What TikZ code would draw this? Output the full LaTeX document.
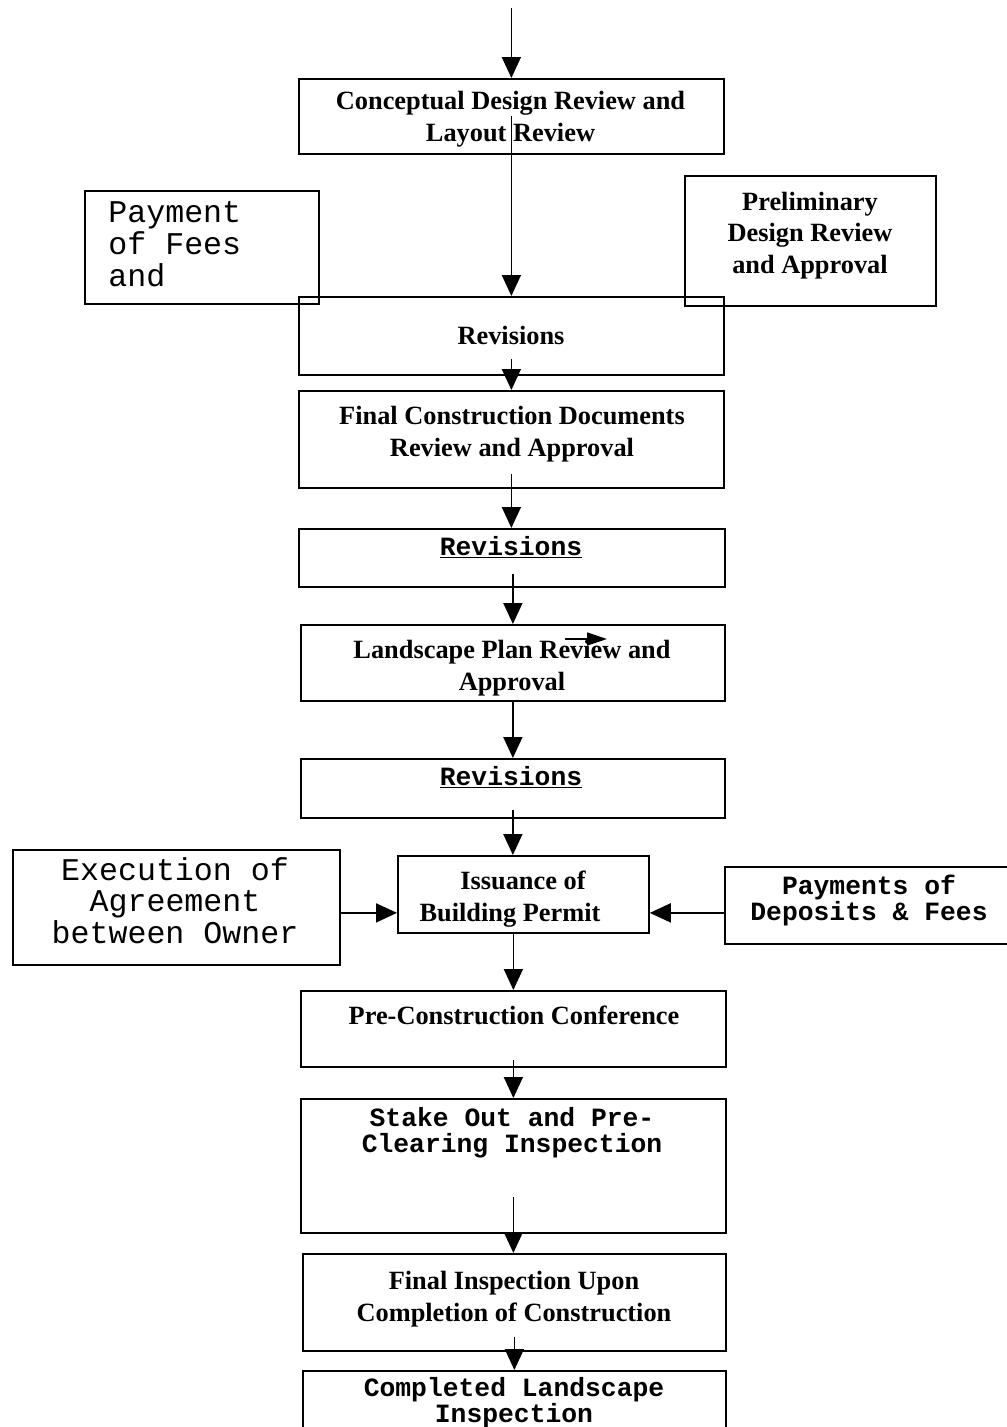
\documentclass[tikz,border=0pt]{standalone}
\usepackage{fontspec}
\setmainfont{Liberation Serif}
\setmonofont{Liberation Mono}
\usepackage{tikz}
\usetikzlibrary{arrows.meta,positioning}
\newcommand*{\FlowBox}[5]{\draw (#1,#2) node[box, minimum width=#3*0.02cm,
  minimum height=#4*0.02cm] (#5) {};}
\tikzset{
  box/.style={draw, line width=1pt, anchor=north west, inner sep=0pt},
  serif/.style={font=\bfseries\fontsize{15}{18.1}\selectfont, align=center, inner sep=0pt},
  mono/.style={font=\ttfamily\bfseries\fontsize{15}{14.7}\selectfont, align=center, inner sep=0pt},
  bigmono/.style={font=\ttfamily\fontsize{18}{18.1}\selectfont, inner sep=0pt},
  flow/.style={line width=1pt, -{Triangle[length=0.42cm, width=0.38cm]}},
  stray/.style={line width=1pt, -{Triangle[length=0.4cm, width=0.26cm]}}
}

\begin{document}
\begin{tikzpicture}[x=0.02cm, y=-0.02cm]
    \useasboundingbox (0,0) rectangle (1007,1427);
    \FlowBox{298}{78}{425}{75}{concept}
    \FlowBox{84}{190}{234}{113}{fees}
    \FlowBox{684}{175}{251}{130}{prelim}
    \FlowBox{298}{296}{425}{78}{rev1}
    \FlowBox{298}{390}{425}{97}{finaldocs}
    \FlowBox{298}{528}{426}{58}{rev2}
    \FlowBox{300}{624}{424}{76}{landscape}
    \FlowBox{300}{758}{424}{59}{rev3}
    \FlowBox{12}{849}{327}{115}{agreement}
    \FlowBox{397}{855}{251}{77}{permit}
    \FlowBox{724}{866}{300}{77}{deposits}
    \FlowBox{300}{990}{425}{76}{precon}
    \FlowBox{300}{1098}{425}{134}{stakeout}
    \FlowBox{302}{1253}{423}{97}{finalinsp}
    \FlowBox{302}{1370}{423}{90}{completed}
    % texts
    \draw (510.5,119.5) node[serif] (conceptT) {Conceptual Design Review and\\Layout Review};
    \draw (108,244) node[bigmono, anchor=west, align=left] (feesT) {Payment\\of Fees\\and};
    \draw (810,235.5) node[serif] (prelimT) {Preliminary\\Design Review\\and Approval};
    \draw (511,335) node[serif] (rev1T) {Revisions};
    \draw (512,434.5) node[serif] (finaldocsT) {Final Construction Documents\\Review and Approval};
    \draw (511,555) node[mono, anchor=base] (rev2T) {\underline{Revisions}};
    \draw (512,668.5) node[serif] (landscapeT) {Landscape Plan Review and\\Approval};
    \draw (511,785) node[mono, anchor=base] (rev3T) {\underline{Revisions}};
    \draw (175,900.5) node[bigmono, align=center] (agreementT)
      {Execution of\\Agreement\\between Owner};
    \draw (523,899) node[serif] (permitT) {Issuance of\\Building Permit\hspace*{0.52cm}};
    \draw (869,900.5) node[mono] (depositsT) {Payments of\\Deposits \& Fees};
    \draw (514,1015) node[serif] (preconT) {Pre-Construction Conference};
    \draw (512,1133) node[mono] (stakeoutT) {Stake Out and Pre-\\Clearing Inspection};
    \draw (514,1299) node[serif] (finalinspT) {Final Inspection Upon\\Completion of Construction};
    \draw (514,1403) node[mono] (completedT) {Completed Landscape\\Inspection};
    % arrows
    \coordinate (start) at (510.5,8);
    \draw[flow] (concept.north |- start) -- (concept.north);
    \draw[flow] (concept.center) -- (concept.center |- rev1.north);
    \draw[flow] ([yshift=0.34cm]rev1.south) -- (rev1.south |- finaldocs.north);
    \draw[flow] ([yshift=0.3cm]finaldocs.south) -- (finaldocs.south |- rev2.north);
    \draw[flow] ([yshift=0.28cm]landscape.north |- rev2.south) -- (landscape.north);
    \draw[flow] (landscape.south) -- (landscape.south |- rev3.north);
    \draw[flow] ([yshift=0.18cm]rev3.south) -- (rev3.south |- permit.north);
    \draw[flow] ([yshift=-0.11cm]agreement.east) -- ([yshift=-0.11cm]agreement.east -| permit.west);
    \draw[flow] ([yshift=-0.15cm]deposits.west) -- ([yshift=-0.15cm]deposits.west -| permit.east);
    \draw[flow] (precon.north |- permit.south) -- (precon.north);
    \draw[flow] ([yshift=0.16cm]precon.south) -- (precon.south |- stakeout.north);
    \draw[flow] ([yshift=0.74cm]stakeout.south) -- (stakeout.south |- finalinsp.north);
    \draw[flow] ([yshift=0.3cm]finalinsp.south) -- (finalinsp.south |- completed.north);
    \coordinate (s1) at (565,639);
    \coordinate (s2) at (607,639);
    \draw[stray] (s1) -- (s2);
\end{tikzpicture}
\end{document}
